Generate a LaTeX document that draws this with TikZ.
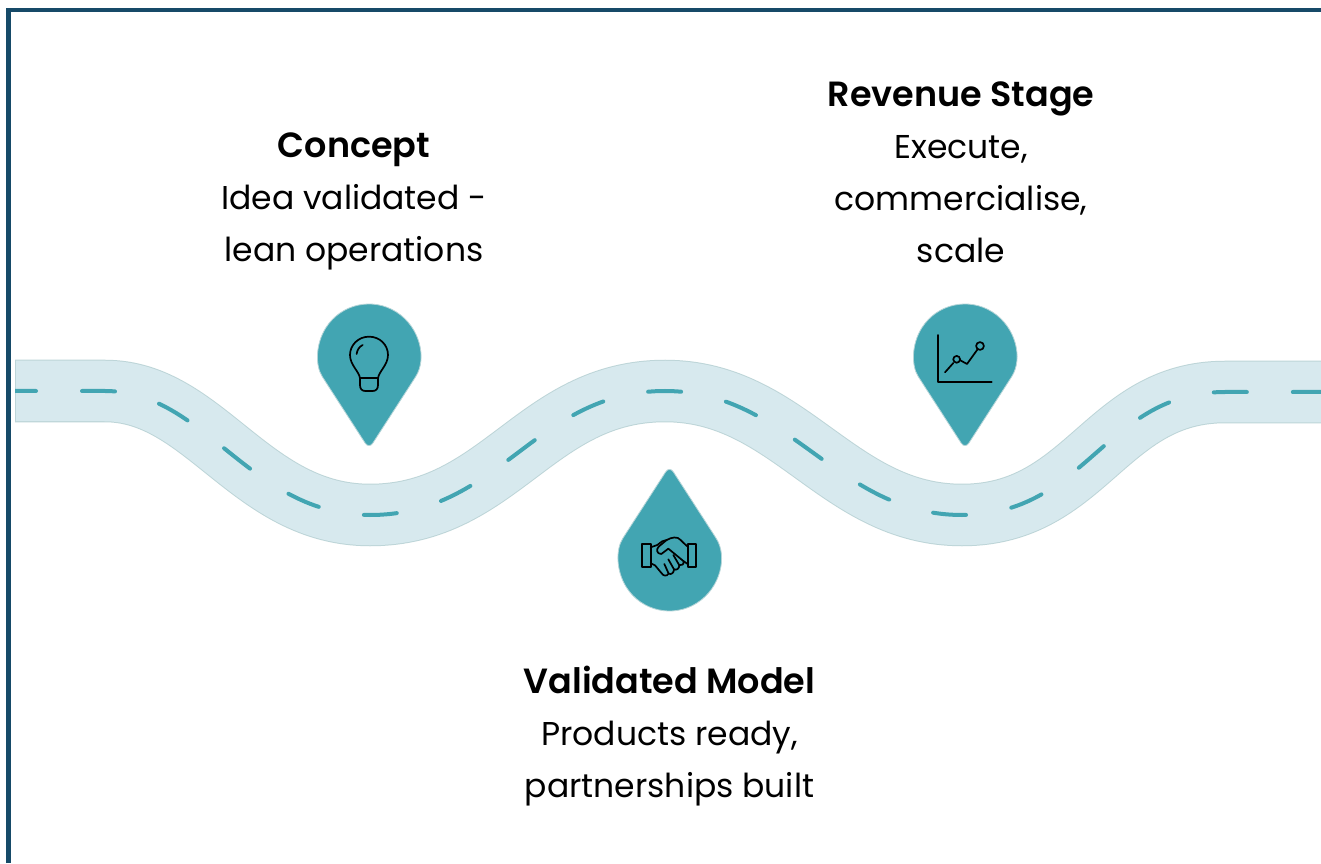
\documentclass[tikz,border=0pt]{standalone}
\usepackage{fontspec}
\setmainfont{Poppins}
\newfontface\headfont{Poppins SemiBold}
\definecolor{frameblue}{HTML}{164A68}
\definecolor{roadfill}{HTML}{D7E9EE}
\definecolor{roadedge}{HTML}{BDD5D8}
\definecolor{teal}{HTML}{42A5B2}
\definecolor{pinedge}{HTML}{B5D5D8}
\tikzset{
  x=1pt,y=1pt,
  label/.style={align=center,text=black,font=\fontsize{33}{52}\selectfont,inner sep=0pt},
  pinbody/.style={fill=teal,draw=pinedge,line width=0.8pt,rounded corners=7pt},
  icon/.style={draw=black,line width=1.7pt,line cap=round,line join=round,fill=none},
  roadline/.style={line width=4pt,draw=teal,line cap=round,dash pattern=on 33 off 46,dash phase=7}
}
\newcommand{\pinshape}{(0,-94) -- (43,-27.4) arc[start angle=-32.5,end angle=212.5,radius=51] -- cycle}
\newcommand{\head}[1]{{\headfont\fontsize{35}{52}\selectfont #1}}
\begin{document}
\begin{tikzpicture}
\useasboundingbox (0,0) rectangle (1321,863);
\fill[white] (0,0) rectangle (1321,863);
% frame
\draw[frameblue,line width=4.5pt] (8.3,0) -- (8.3,853) -- (1321,853);
% road
\begin{scope}
\clip (15,0) rectangle (1321,863);
\def\roadpath{(10,472) -- (105,472) .. controls (205,472) and (250,348) .. (370,348)
  .. controls (500,348) and (535,472) .. (665,472)
  .. controls (790,472) and (837,348) .. (962,348)
  .. controls (1087,348) and (1105,471) .. (1225,471) -- (1330,471)}
\draw[roadedge,line width=62.5pt] \roadpath;
\draw[roadfill,line width=60.5pt] \roadpath;
\draw[roadedge,line width=1pt] (15.5,441) -- (15.5,503);
\draw[roadline] \roadpath;
\end{scope}
% pins
\begin{scope}[shift={(369,508)}]
\draw[pinbody] \pinshape;
\end{scope}
\begin{scope}[shift={(965,508)}]
\draw[pinbody] \pinshape;
\end{scope}
\begin{scope}[shift={(669.5,303)},yscale=-1]
\draw[pinbody] \pinshape;
\end{scope}
% bulb (zoom coordinates)
\begin{scope}[shift={(300,573)},x=0.3333pt,y=-0.3333pt]
\draw[icon] (180,265) .. controls (178,245) and (150,225) .. (150,195)
  .. controls (150,165) and (175,140) .. (207,140)
  .. controls (240,140) and (264,165) .. (264,195)
  .. controls (264,225) and (236,245) .. (234,265)
  -- (234,285) .. controls (234,297) and (228,303) .. (218,303)
  -- (196,303) .. controls (186,303) and (180,297) .. (180,285) -- cycle;
\draw[icon] (180,265) -- (234,265);
\draw[icon] (170,192) .. controls (171,180) and (178,170) .. (188,165);
\end{scope}
% handshake
\begin{scope}[shift={(600,403)},x=0.3333pt,y=-0.3333pt]
\draw[icon] (127,252) rectangle (152,320);
\draw[icon] (263,252) rectangle (288,320);
\draw[icon] (152,262) -- (172,255) .. controls (185,245) and (190,240) .. (200,240);
\draw[icon] (200,240) -- (176,260) .. controls (168,268) and (170,282) .. (184,282) -- (205,266) -- (250,303)
  .. controls (254,312) and (245,318) .. (238,316) .. controls (238,325) and (230,332) .. (222,328)
  .. controls (222,338) and (214,345) .. (206,341) .. controls (200,350) and (190,348) .. (185,340)
  -- (165,316) -- (152,310);
\draw[icon] (200,240) .. controls (215,232) and (232,228) .. (242,240) -- (252,250) -- (263,260);
\draw[icon] (250,303) -- (263,312);
\draw[icon] (193,312) -- (206,341);
\draw[icon] (205,298) -- (222,328);
\draw[icon] (220,285) -- (238,316);
\end{scope}
% chart
\begin{scope}[shift={(900,568)},x=0.3333pt,y=-0.3333pt]
\draw[icon] (115,120) -- (115,260) -- (275,260);
\draw[icon] (135,232) -- (160,204);
\draw[icon] (170,193) circle[radius=3.4pt];
\draw[icon] (181,196) -- (201,207) -- (232,164);
\draw[icon] (240,153) circle[radius=3.9pt];
\end{scope}
% labels
\node[label] (concept) at (354,661.5) {\head{Concept}\\Idea validated -\\lean operations};
\node[label] (revenue) at (961,691) {\head{Revenue Stage}\\Execute,\\commercialise,\\scale};
\node[label] (validated) at (669.5,127) {\head{Validated Model}\\Products ready,\\partnerships built};
\end{tikzpicture}
\end{document}
